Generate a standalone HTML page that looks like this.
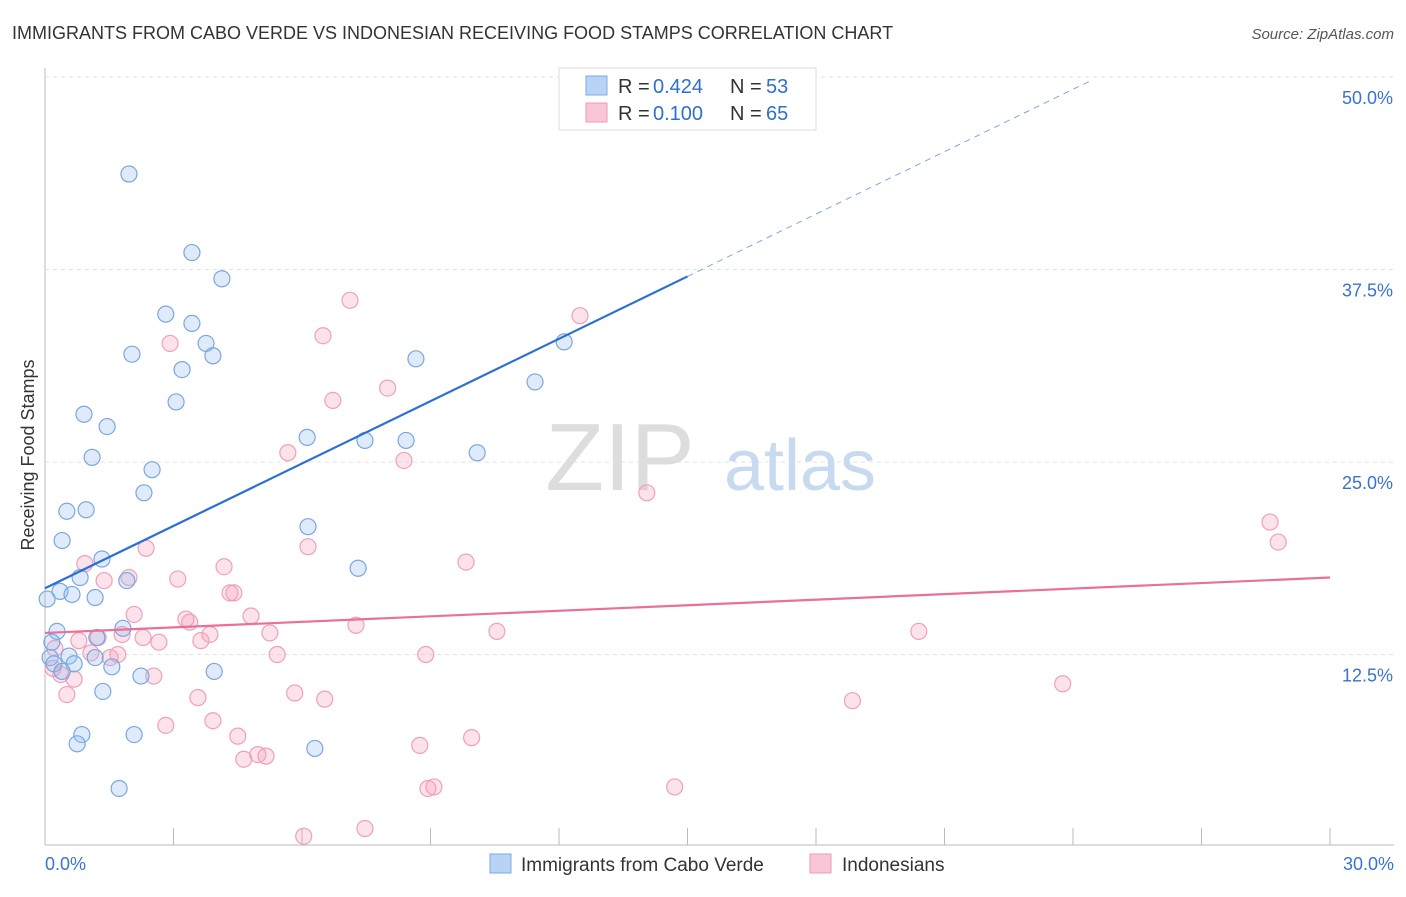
<!DOCTYPE html>
<html><head><meta charset="utf-8"><style>
body{margin:0;background:#fff;font-family:"Liberation Sans",sans-serif;}
svg text{font-family:"Liberation Sans",sans-serif;}
</style></head><body>
<svg width="1406" height="892">
<text x="12" y="39" font-size="18" fill="#333">IMMIGRANTS FROM CABO VERDE VS INDONESIAN RECEIVING FOOD STAMPS CORRELATION CHART</text>
<text x="1394" y="39" font-size="15" fill="#555" font-style="italic" text-anchor="end">Source: ZipAtlas.com</text>
<g id="grid"></g>
<text x="620" y="490" font-size="96" fill="#ddd" font-family="Liberation Serif" text-anchor="middle">ZIP</text>
<text x="800" y="490" font-size="72" fill="#c8daf0" text-anchor="middle">atlas</text>
<text transform="translate(34,455) rotate(-90)" font-size="18" fill="#333" text-anchor="middle">Receiving Food Stamps</text>
<g id="marks"></g>
<g>
<rect x="559" y="68" width="257" height="62" fill="#fff" stroke="#ddd"/>
<rect x="586" y="76" width="21" height="19" fill="#b8d3f5" stroke="#7ba9e6"/>
<rect x="586" y="103" width="21" height="19" fill="#f9c6d5" stroke="#f09ab4"/>
<text x="618" y="93" font-size="20" fill="#333">R =</text>
<text x="653" y="93" font-size="20" fill="#2f6fcd">0.424</text>
<text x="730" y="93" font-size="20" fill="#333">N =</text>
<text x="766" y="93" font-size="20" fill="#2f6fcd">53</text>
<text x="618" y="120" font-size="20" fill="#333">R =</text>
<text x="653" y="120" font-size="20" fill="#2f6fcd">0.100</text>
<text x="730" y="120" font-size="20" fill="#333">N =</text>
<text x="766" y="120" font-size="20" fill="#2f6fcd">65</text>
</g>
<g>
<rect x="490" y="854" width="21" height="19" fill="#b8d3f5" stroke="#7ba9e6"/>
<text x="521" y="871" font-size="19" fill="#333">Immigrants from Cabo Verde</text>
<rect x="810" y="854" width="21" height="19" fill="#f9c6d5" stroke="#f09ab4"/>
<text x="842" y="871" font-size="19" fill="#333">Indonesians</text>
</g>
</svg>
<script>
const blueX=[1.96,3.43,4.13,2.82,3.43,3.76,2.03,3.92,3.20,8.66,12.12,11.44,3.06,0.91,1.45,6.12,7.47,8.43,10.09,1.10,2.50,2.31,0.51,0.96,6.14,0.40,1.33,7.31,0.82,1.91,0.35,0.63,1.17,0.05,0.28,1.82,1.21,0.16,0.56,1.17,0.12,0.21,0.68,1.56,0.40,2.24,3.95,1.35,0.86,2.08,0.75,6.30,1.73];
const blueY=[43.7,38.6,36.9,34.6,34.0,32.7,32.0,31.9,31.0,31.7,32.8,30.2,28.9,28.1,27.3,26.6,26.4,26.4,25.6,25.3,24.5,23.0,21.8,21.9,20.8,19.9,18.7,18.1,17.5,17.3,16.6,16.4,16.2,16.1,14.0,14.2,13.6,13.3,12.4,12.3,12.3,11.9,11.9,11.7,11.4,11.1,11.4,10.1,7.3,7.3,6.7,6.4,3.8];
const pinkX=[7.12,6.49,12.49,2.92,6.72,8.0,5.67,8.38,14.05,28.6,28.79,2.36,6.14,9.83,0.93,4.18,3.1,1.96,1.38,4.32,4.41,2.08,4.81,3.29,3.38,7.26,10.55,20.4,5.25,1.8,3.85,1.24,2.29,3.64,2.66,0.79,0.23,1.07,1.7,5.42,8.89,1.52,0.19,0.37,0.68,2.54,23.76,0.51,5.83,3.57,6.53,18.85,2.82,3.92,4.5,9.96,8.75,4.97,5.16,4.64,14.7,9.08,8.94,7.47,6.04];
const pinkY=[35.5,33.2,34.5,32.7,29.0,29.8,25.6,25.1,23.0,21.1,19.8,19.4,19.5,18.5,18.4,18.2,17.4,17.5,17.3,16.5,16.5,15.1,15.0,14.8,14.6,14.4,14.0,14.0,13.9,13.8,13.8,13.6,13.6,13.4,13.3,13.4,12.9,12.6,12.5,12.5,12.5,12.3,11.6,11.2,10.9,11.1,10.6,9.9,10.0,9.7,9.6,9.5,7.9,8.2,7.2,7.1,6.6,6.0,5.9,5.7,3.9,3.9,3.8,1.2,0.7];
const yTicks=[12.5,25.0,37.5,50.0];
const xTickVals=[0,3,6,9,12,15,18,21,24,27,30];
const blueFit=[16.8,1.35], pinkFit=[13.9,0.12];
const sx=v=>45+v/30*1285, sy=v=>847-v/50*770;
const NS="http://www.w3.org/2000/svg";
function mk(t,a,p){const e=document.createElementNS(NS,t);for(const k in a)e.setAttribute(k,a[k]);p.appendChild(e);return e;}
const g=document.getElementById('grid'), m=document.getElementById('marks');
mk('line',{x1:45,y1:68,x2:45,y2:845,stroke:'#bbb'},g);
mk('line',{x1:45,y1:845,x2:1394,y2:845,stroke:'#bbb'},g);
yTicks.forEach(t=>{const l=mk('line',{x1:45,y1:sy(t),x2:1394,y2:sy(t),stroke:'#e2e2e2','stroke-dasharray':'4,4'},g);


const tx=mk('text',{x:1393,y:sy(t)+27,'font-size':18,fill:'#3a72cf','text-anchor':'end'},g);tx.textContent=t.toFixed(1)+'%';

});
xTickVals.forEach(t=>{const l=mk('line',{x1:sx(t),y1:828,x2:sx(t),y2:845,stroke:'#bbb'},g);

});
[[0,'start',45],[30,'end',1394]].forEach(([v,a,x])=>{const t=mk('text',{x:x,y:870,'font-size':18,fill:'#3a72cf','text-anchor':a},g);t.textContent=v.toFixed(1)+'%';

});
pinkX.forEach((x,i)=>{const c=mk('circle',{cx:sx(x),cy:sy(pinkY[i]),r:8,fill:'rgba(245,160,185,0.3)',stroke:'#f0a0b8','stroke-width':1.2},m);

});
blueX.forEach((x,i)=>{const c=mk('circle',{cx:sx(x),cy:sy(blueY[i]),r:8,fill:'rgba(150,190,240,0.3)',stroke:'#7aa7e0','stroke-width':1.2},m);

});
const f=(fit,x)=>fit[0]+fit[1]*x;
let l1=mk('line',{x1:sx(0),y1:sy(f(blueFit,0)),x2:sx(15),y2:sy(f(blueFit,15)),stroke:'#2a6fd6','stroke-width':2.2},m);


let l2=mk('line',{x1:sx(15),y1:sy(f(blueFit,15)),x2:sx(24.4),y2:sy(f(blueFit,24.4)),stroke:'#7aa7e0','stroke-width':1,'stroke-dasharray':'6,5'},m);


let l3=mk('line',{x1:sx(0),y1:sy(f(pinkFit,0)),x2:sx(30),y2:sy(f(pinkFit,30)),stroke:'#e8709a','stroke-width':2.2},m);


</script>
</body></html>
